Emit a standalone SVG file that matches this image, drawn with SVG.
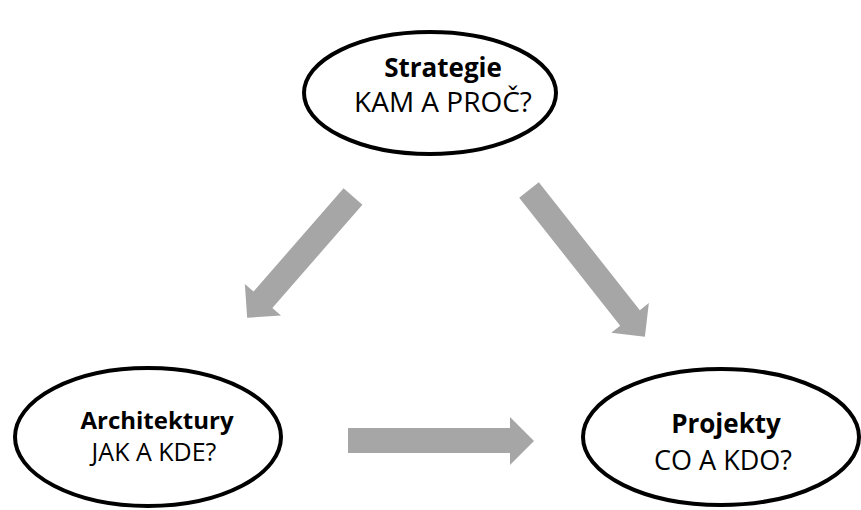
<svg xmlns="http://www.w3.org/2000/svg" width="861" height="510" viewBox="0 0 861 510">
  <defs>
    <style>
      .node ellipse { fill: #ffffff; stroke: #000000; stroke-width: 4; }
      .title { font-family: "Open Sans", "Liberation Sans", sans-serif; font-weight: bold; fill: #000; text-anchor: middle; }
      .sub { font-family: "Open Sans", "Liberation Sans", sans-serif; fill: #000; text-anchor: middle; }
      .arrow { fill: #a6a6a6; }
    </style>
  </defs>
  <rect width="861" height="510" fill="#ffffff"/>

  <!-- block arrows: shaft 25 wide, head 48 wide and 24 long -->
  <g id="connectors">
    <!-- Strategie -> Architektury -->
    <polygon class="arrow" transform="translate(353,196.5) rotate(131.1)" points="0,-12.5 137,-12.5 137,-24 161,0 137,24 137,12.5 0,12.5"/>
    <!-- Strategie -> Projekty -->
    <polygon class="arrow" transform="translate(529,190) rotate(51.7)" points="0,-12.5 163,-12.5 163,-24 187,0 163,24 163,12.5 0,12.5"/>
    <!-- Architektury -> Projekty -->
    <polygon class="arrow" points="348,428 510,428 510,417 534,441 510,465 510,453 348,453"/>
  </g>

  <g id="strategie" class="node">
    <ellipse cx="430" cy="93" rx="126" ry="61"/>
    <text class="title" x="443" y="77" font-size="26">Strategie</text>
    <text class="sub" x="443" y="112" font-size="28">KAM A PROČ?</text>
  </g>

  <g id="architektury" class="node">
    <ellipse cx="148" cy="437" rx="133" ry="69"/>
    <text class="title" x="157" y="429" font-size="24">Architektury</text>
    <text class="sub" x="154" y="461" font-size="25">JAK A KDE?</text>
  </g>

  <g id="projekty" class="node">
    <ellipse cx="721" cy="437" rx="138" ry="68"/>
    <text class="title" x="726" y="433" font-size="26">Projekty</text>
    <text class="sub" x="723" y="470" font-size="27">CO A KDO?</text>
  </g>
</svg>
